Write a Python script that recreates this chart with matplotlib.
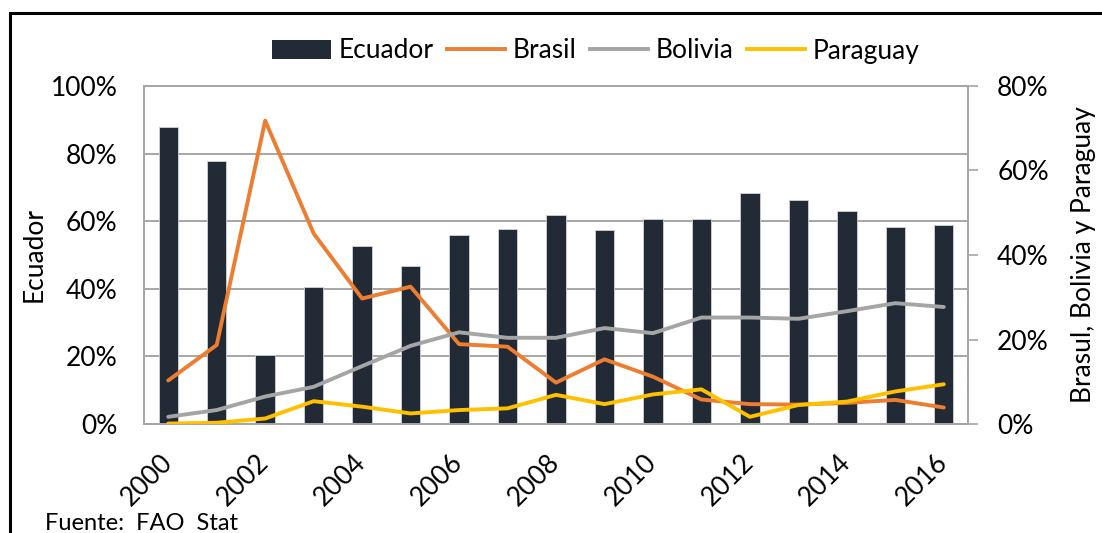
import matplotlib
matplotlib.use('Agg')
import matplotlib.pyplot as plt
from matplotlib.patches import Rectangle, Patch
from matplotlib.lines import Line2D
from matplotlib.ticker import FuncFormatter, MultipleLocator

plt.rcParams['font.family'] = ['Lato', 'DejaVu Sans']

years = list(range(2000, 2017))
ecuador = [88.0, 77.8, 20.4, 40.6, 52.8, 46.7, 56.0, 57.6, 61.8, 57.3, 60.6, 60.7, 68.3, 66.2, 63.0, 58.4, 58.9]
brasil = [10.3, 18.7, 71.8, 45.1, 29.7, 32.5, 18.9, 18.3, 9.8, 15.3, 11.2, 5.8, 4.7, 4.6, 5.0, 5.7, 3.9]
bolivia = [1.7, 3.3, 6.5, 8.8, 13.7, 18.5, 21.7, 20.4, 20.4, 22.7, 21.5, 25.2, 25.2, 24.9, 26.7, 28.6, 27.7]
paraguay = [0.1, 0.3, 1.3, 5.4, 4.1, 2.5, 3.3, 3.7, 6.9, 4.7, 7.0, 8.2, 1.7, 4.5, 5.3, 7.7, 9.4]
year_labels = [str(y) if y % 2 == 0 else '' for y in years]

C_BAR = '#222a35'
C_BRA = '#ed7d31'
C_BOL = '#a5a5a5'
C_PAR = '#ffc000'
C_GRID = '#a6a6a6'
FS = 19
LW = 2.8

W, H = 1102, 533
fig = plt.figure(figsize=(W / 100, H / 100), dpi=100)
ax = fig.add_axes([144 / W, 1 - 424 / H, (968 - 144) / W, (424 - 86) / H])
x = list(range(len(years)))

ax.bar(x, ecuador, width=0.4, color=C_BAR, edgecolor='#d0d4d8', linewidth=0.6, zorder=2)
ax.set_ylim(0, 100)
ax.set_xlim(-0.5, len(years) - 0.5)
ax.yaxis.set_major_locator(MultipleLocator(20))
ax.yaxis.set_major_formatter(FuncFormatter(lambda v, p: f'{v:.0f}%'))
ax.grid(axis='y', color=C_GRID, linewidth=1.4, zorder=0)
ax.set_axisbelow(True)
ax.tick_params(axis='y', length=0, labelsize=FS, pad=19)
ax.tick_params(axis='x', length=0, pad=25)
ax.set_xticks(x)
ax.set_xticklabels(year_labels, rotation=45, ha='right', va='center', rotation_mode='anchor', fontsize=FS)
for s in ax.spines.values():
    s.set_color(C_GRID)
    s.set_linewidth(1.4)
ax.set_ylabel('Ecuador', fontsize=FS)
ax.yaxis.set_label_coords(-0.118, 0.5)

ax2 = ax.twinx()
ax2.plot(x, brasil, color=C_BRA, linewidth=LW, solid_capstyle='round', zorder=3)
ax2.plot(x, bolivia, color=C_BOL, linewidth=LW, solid_capstyle='round', zorder=3)
ax2.plot(x, paraguay, color=C_PAR, linewidth=LW, solid_capstyle='round', zorder=4)
ax2.set_ylim(0, 80)
ax2.yaxis.set_major_locator(MultipleLocator(20))
ax2.yaxis.set_major_formatter(FuncFormatter(lambda v, p: f'{v:.0f}%'))
ax2.tick_params(axis='y', length=7, width=1.2, color=C_GRID, labelsize=FS, pad=14)
for s in ax2.spines.values():
    s.set_color(C_GRID)
    s.set_linewidth(1.4)
ax2.set_ylabel('Brasul, Bolivia y Paraguay', fontsize=FS, labelpad=16)

handles = [Patch(facecolor=C_BAR), Line2D([], [], color=C_BRA, lw=LW),
           Line2D([], [], color=C_BOL, lw=LW), Line2D([], [], color=C_PAR, lw=LW)]
fig.legend(handles, ['Ecuador', 'Brasil', 'Bolivia', 'Paraguay'], loc='center', ncol=4,
           bbox_to_anchor=(596 / W, 1 - 51 / H), frameon=False, fontsize=FS,
           handlelength=2.2, handletextpad=0.3, columnspacing=0.5)

fig.text(45 / W, 1 - 524 / H, 'Fuente:  FAO  Stat', fontsize=17, va='center', ha='left')
fig.patches.append(Rectangle((10 / W, -0.2), 1.5, 1.2 - 13 / H, transform=fig.transFigure,
                             fill=False, edgecolor='black', linewidth=2.2))

fig.savefig('out.png', dpi=100)
